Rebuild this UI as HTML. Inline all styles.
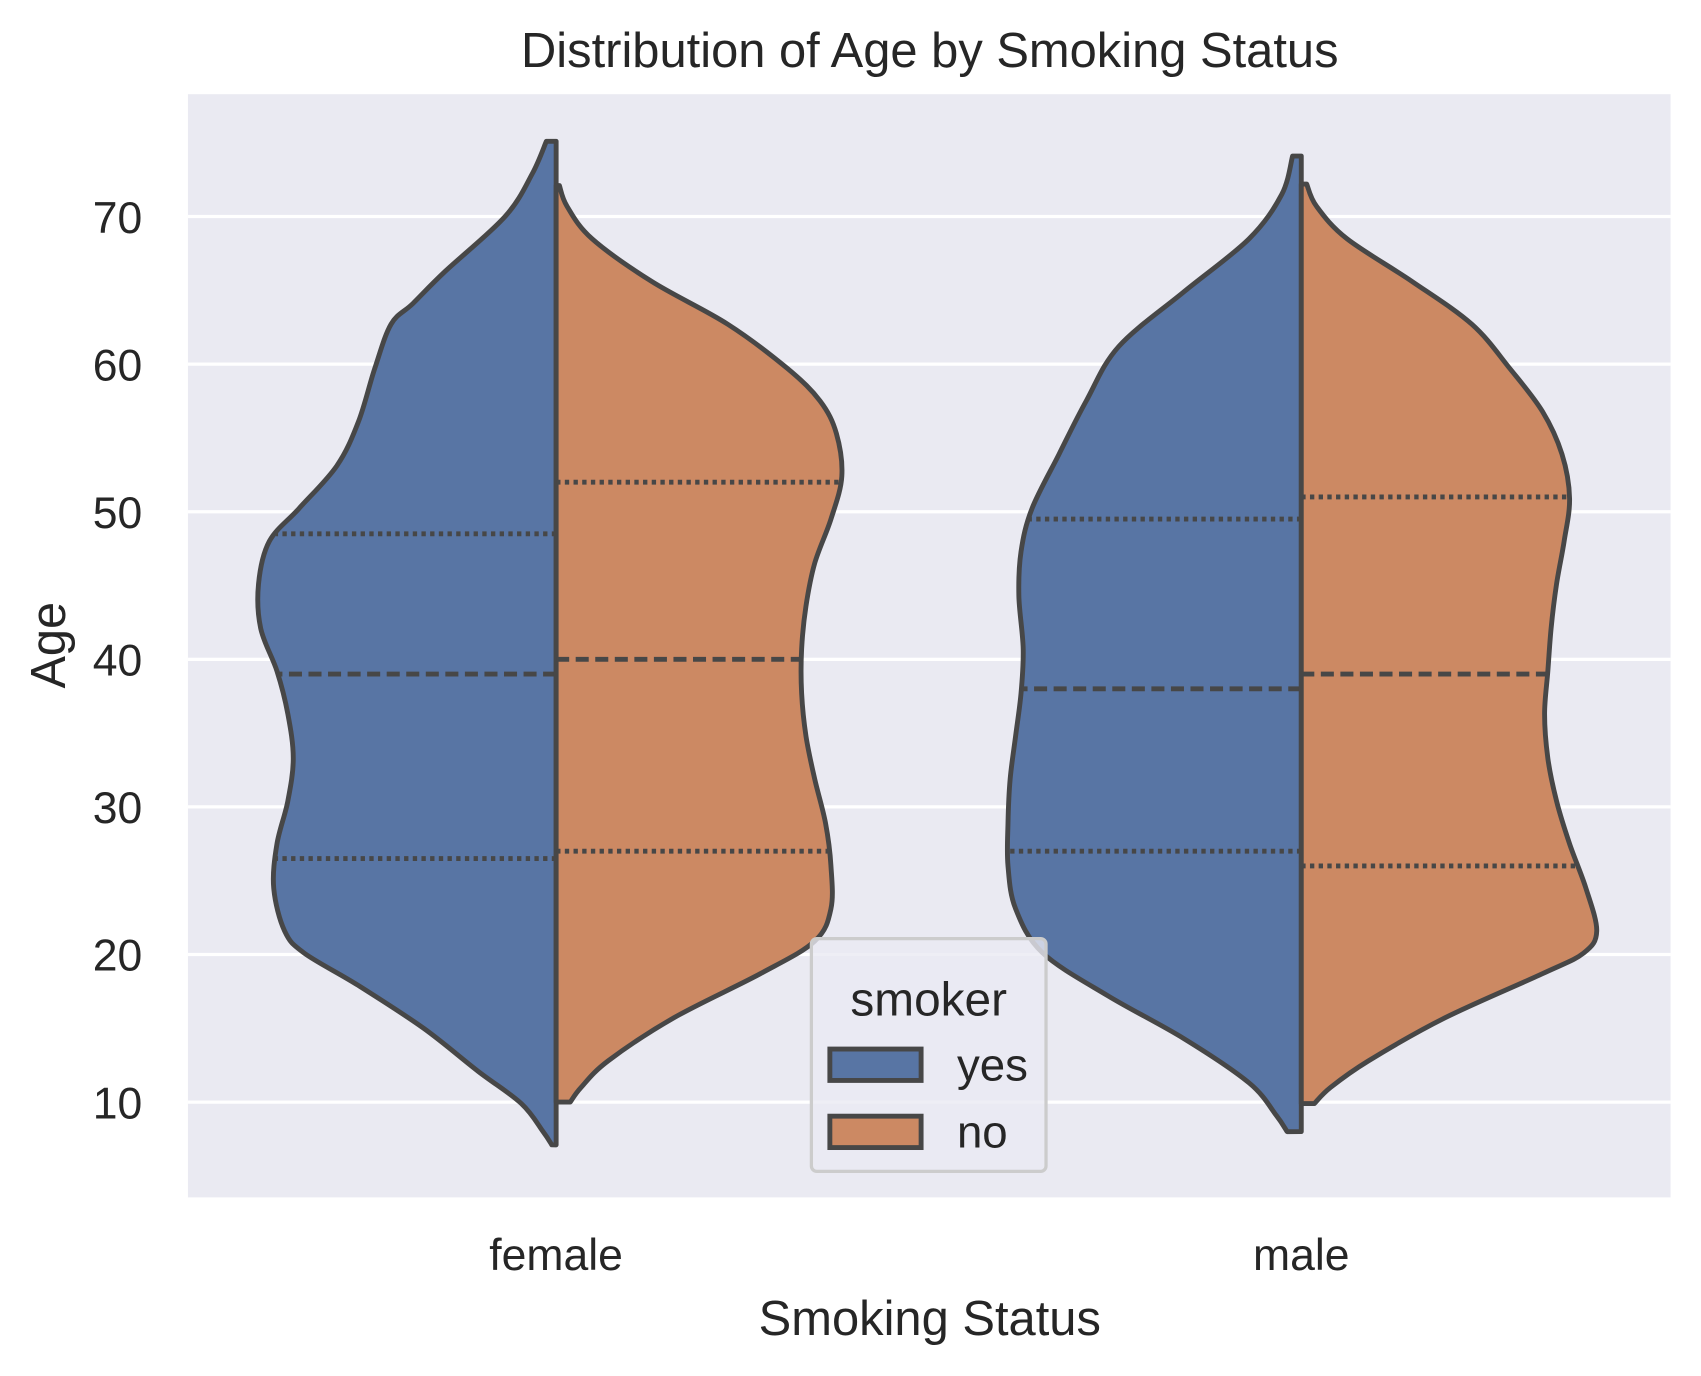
<!DOCTYPE html>
<html><head><meta charset="utf-8"><style>
html,body{margin:0;padding:0;background:#fff;}
svg{display:block;font-family:"Liberation Sans",sans-serif;}
</style></head><body>
<svg id="chart" width="1701" height="1376" viewBox="0 0 1566 1271" preserveAspectRatio="none" xmlns="http://www.w3.org/2000/svg">
<rect x="173" y="87" width="1365" height="1019" fill="#eaeaf2"/>
<g id="grid"></g>
<g id="violins"></g>
<g id="ticks"></g>
<text x="856" y="62" font-size="45" text-anchor="middle" fill="#262626">Distribution of Age by Smoking Status</text>
<text x="856" y="1233" font-size="45" text-anchor="middle" fill="#262626">Smoking Status</text>
<text x="0" y="0" font-size="45" text-anchor="middle" fill="#262626" transform="translate(60,596) rotate(-90)">Age</text>
<g>
<rect x="747" y="867" width="216" height="215" rx="5" fill="#eaeaf2" fill-opacity="0.8" stroke="#cccccc" stroke-width="3"/>
<text x="855" y="938" font-size="44" text-anchor="middle" fill="#262626">smoker</text>
<rect x="764" y="969" width="84" height="29" fill="#5875a4" stroke="#474747" stroke-width="4.5"/>
<text x="881" y="998" font-size="42" fill="#262626">yes</text>
<rect x="764" y="1031" width="84" height="29" fill="#cc8963" stroke="#474747" stroke-width="4.5"/>
<text x="881" y="1060" font-size="42" fill="#262626">no</text>
</g>
</svg>
<script>
const categories = ["female","male"];
const yTicks = [10,20,30,40,50,60,70];
// female / yes
const fyAges = [75.1,72.9,70.0,66.3,64.1,62.7,59.7,56.1,53.1,50.2,48.0,45.1,42.1,39.2,36.3,33.3,30.4,27.5,24.5,21.6,20.1,17.9,15.0,12.1,9.9,8.0,7.1];
const fyDens = [0.09,0.22,0.47,1.02,1.32,1.52,1.67,1.82,2.02,2.37,2.64,2.74,2.72,2.57,2.47,2.42,2.47,2.57,2.60,2.50,2.32,1.82,1.22,0.72,0.32,0.12,0.04];
const fyQuart = [26.5,39,48.5];
// female / no
const fnAges = [72.1,70.7,68.5,65.6,62.7,59.7,57.5,55.3,52.4,49.5,46.5,43.6,40.7,37.7,34.8,31.9,28.9,26.0,23.1,20.9,18.7,15.7,12.8,11.0,10.0];
const fnDens = [0.03,0.10,0.33,0.88,1.58,2.13,2.43,2.58,2.63,2.53,2.38,2.30,2.26,2.26,2.30,2.38,2.48,2.53,2.53,2.38,1.88,1.08,0.48,0.23,0.13];
const fnQuart = [27,40,52];
// male / yes
const myAges = [74.1,71.5,68.5,64.9,61.2,57.5,53.9,50.2,47.3,44.3,40.7,37.7,34.8,31.9,28.9,26.0,23.1,20.1,17.2,14.3,11.3,9.1,8.0];
const myDens = [0.08,0.18,0.48,1.08,1.68,1.98,2.23,2.48,2.58,2.60,2.56,2.58,2.63,2.68,2.70,2.70,2.63,2.38,1.78,1.08,0.48,0.23,0.13];
const myQuart = [27,38,49.5];
// male / no
const mnAges = [72.2,70.7,68.5,65.6,62.7,59.7,56.8,53.9,50.9,48.0,45.1,42.1,39.2,36.3,33.3,30.4,27.5,24.5,21.6,20.1,18.7,15.7,12.8,11.0,9.9];
const mnDens = [0.05,0.14,0.42,1.02,1.57,1.92,2.22,2.40,2.47,2.42,2.35,2.30,2.27,2.24,2.27,2.35,2.47,2.62,2.72,2.60,2.22,1.32,0.62,0.27,0.12];
const mnQuart = [26,39,51];

const NS="http://www.w3.org/2000/svg";
const svg=document.getElementById('chart');
const yScale=v=>1018-(v-10)*13.633;
const xScale=i=>512+i*686;
const wScale=d=>d*100;
function mk(tag,attrs,parent){const e=document.createElementNS(NS,tag);for(const k in attrs)e.setAttribute(k,attrs[k]);parent.appendChild(e);return e;}
const grid=document.getElementById('grid'), ticks=document.getElementById('ticks'), vg=document.getElementById('violins');
yTicks.forEach(t=>{
  const l=mk('line',{x1:173,x2:1538,y1:yScale(t),y2:yScale(t),stroke:'#fff','stroke-width':3},grid);
  
  
  const tx=mk('text',{x:131,y:yScale(t)+15,'font-size':41,'text-anchor':'end',fill:'#262626'},ticks);
  tx.textContent=t;
  
  
});
categories.forEach((c,i)=>{
  const tx=mk('text',{x:xScale(i),y:1173,'font-size':41,'text-anchor':'middle',fill:'#262626'},ticks);
  tx.textContent=c;
  
  
});
function smooth(pts){
  let d='M'+pts[0][0]+','+pts[0][1];
  for(let i=0;i<pts.length-1;i++){
    const p0=pts[Math.max(0,i-1)],p1=pts[i],p2=pts[i+1],p3=pts[Math.min(pts.length-1,i+2)];
    const c1=[p1[0]+(p2[0]-p0[0])/6,p1[1]+(p2[1]-p0[1])/6];
    const c2=[p2[0]-(p3[0]-p1[0])/6,p2[1]-(p3[1]-p1[1])/6];
    d+=' C'+c1[0].toFixed(1)+','+c1[1].toFixed(1)+' '+c2[0].toFixed(1)+','+c2[1].toFixed(1)+' '+p2[0].toFixed(1)+','+p2[1].toFixed(1);
  }
  return d;
}
function interp(ages,dens,a){
  for(let i=0;i<ages.length-1;i++){
    if(a<=ages[i]&&a>=ages[i+1]){const t=(ages[i]-a)/(ages[i]-ages[i+1]);return dens[i]+(dens[i+1]-dens[i])*t;}
  }
  return 0;
}
function half(ci,side,ages,dens,quart,color,name){
  const cx=xScale(ci);
  const pts=ages.map((a,k)=>[cx+side*wScale(dens[k]),yScale(a)]);
  let d=smooth(pts)+' L'+cx+','+yScale(ages[ages.length-1])+' L'+cx+','+yScale(ages[0])+' Z';
  const p=mk('path',{d:d,fill:color,stroke:'#474747','stroke-width':4.5,'stroke-linejoin':'round'},vg);
  
  
  quart.forEach((q,k)=>{
    const w=wScale(interp(ages,dens,q));
    const l=mk('line',{x1:cx,x2:cx+side*w,y1:yScale(q),y2:yScale(q),stroke:'#474747','stroke-width':4.5,'stroke-dasharray':k==1?'12,6':'4,4'},vg);
    
    
  });
}
half(0,-1,fyAges,fyDens,fyQuart,'#5875a4','female-yes');
half(0,1,fnAges,fnDens,fnQuart,'#cc8963','female-no');
half(1,-1,myAges,myDens,myQuart,'#5875a4','male-yes');
half(1,1,mnAges,mnDens,mnQuart,'#cc8963','male-no');
</script>
</body></html>
